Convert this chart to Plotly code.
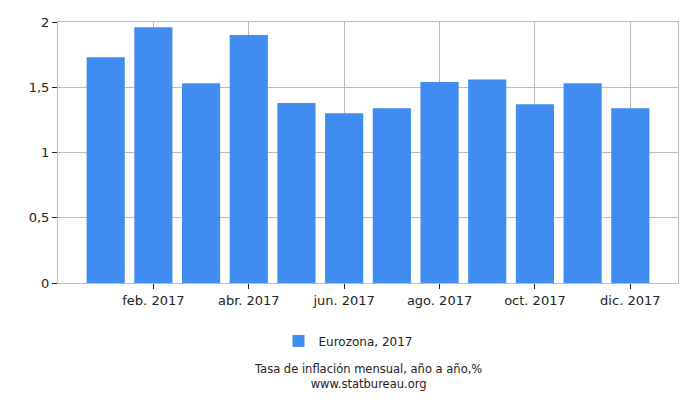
import plotly.graph_objects as go

months = ["ene. 2017", "feb. 2017", "mar. 2017", "abr. 2017", "may. 2017", "jun. 2017",
          "jul. 2017", "ago. 2017", "sep. 2017", "oct. 2017", "nov. 2017", "dic. 2017"]
values = [1.73, 1.96, 1.53, 1.90, 1.38, 1.30, 1.34, 1.54, 1.56, 1.37, 1.53, 1.34]
series_name = "Eurozona, 2017"
tick_idx = [1, 3, 5, 7, 9, 11]
y_ticks = [0, 0.5, 1, 1.5, 2]
y_ticktext = ["0", "0,5", "1", "1,5", "2"]
title_lines = ["Tasa de inflación mensual, año a año,%", "www.statbureau.org"]

x = list(range(len(months)))

fig = go.Figure()
fig.add_trace(go.Bar(
    x=x, y=values, name=series_name, marker=dict(color="#418cf0", line=dict(width=0)),
    width=0.8, showlegend=True,
))

font = "DejaVu Sans, Verdana, sans-serif"
W, H = 692, 392
ML, MR, MT, MB = 50, 22, 14, 117
PH = H - MT - MB
PW = W - ML - MR
fig.update_layout(
    width=W, height=H,
    margin=dict(l=ML, r=MR, t=MT, b=MB, autoexpand=False),
    paper_bgcolor="white", plot_bgcolor="white",
    separators=", ",
    font=dict(family=font, size=13, color="#222"),
    showlegend=True,
    legend=dict(orientation="h", x=(348 - 58) / PW, xanchor="center",
                y=-58 / PH, yanchor="middle",
                font=dict(size=12, family=font)),
    xaxis=dict(
        range=[-1, 12], tickmode="array", tickvals=tick_idx,
        ticktext=[months[i] for i in tick_idx],
        showgrid=True, gridcolor="#bbbbbb", gridwidth=1,
        showline=True, linecolor="#bbbbbb", mirror=True,
        ticks="outside", ticklen=5, tickcolor="#222", zeroline=False,
    ),
    yaxis=dict(
        range=[0, 2], tickmode="array", tickvals=y_ticks,
        ticktext=y_ticktext,
        showgrid=True, gridcolor="#bbbbbb", gridwidth=1,
        showline=True, linecolor="#bbbbbb", mirror=True,
        ticks="outside", ticklen=5, tickcolor="#222", zeroline=False,
    ),
    annotations=[
        dict(text="<br>".join(title_lines), xref="paper", yref="paper",
             x=0.5, y=-93.7 / PH, xanchor="center", yanchor="middle", showarrow=False,
             align="center", font=dict(size=11.5, family=font, color="#222")),
    ],
)

fig.write_html("out.html")
